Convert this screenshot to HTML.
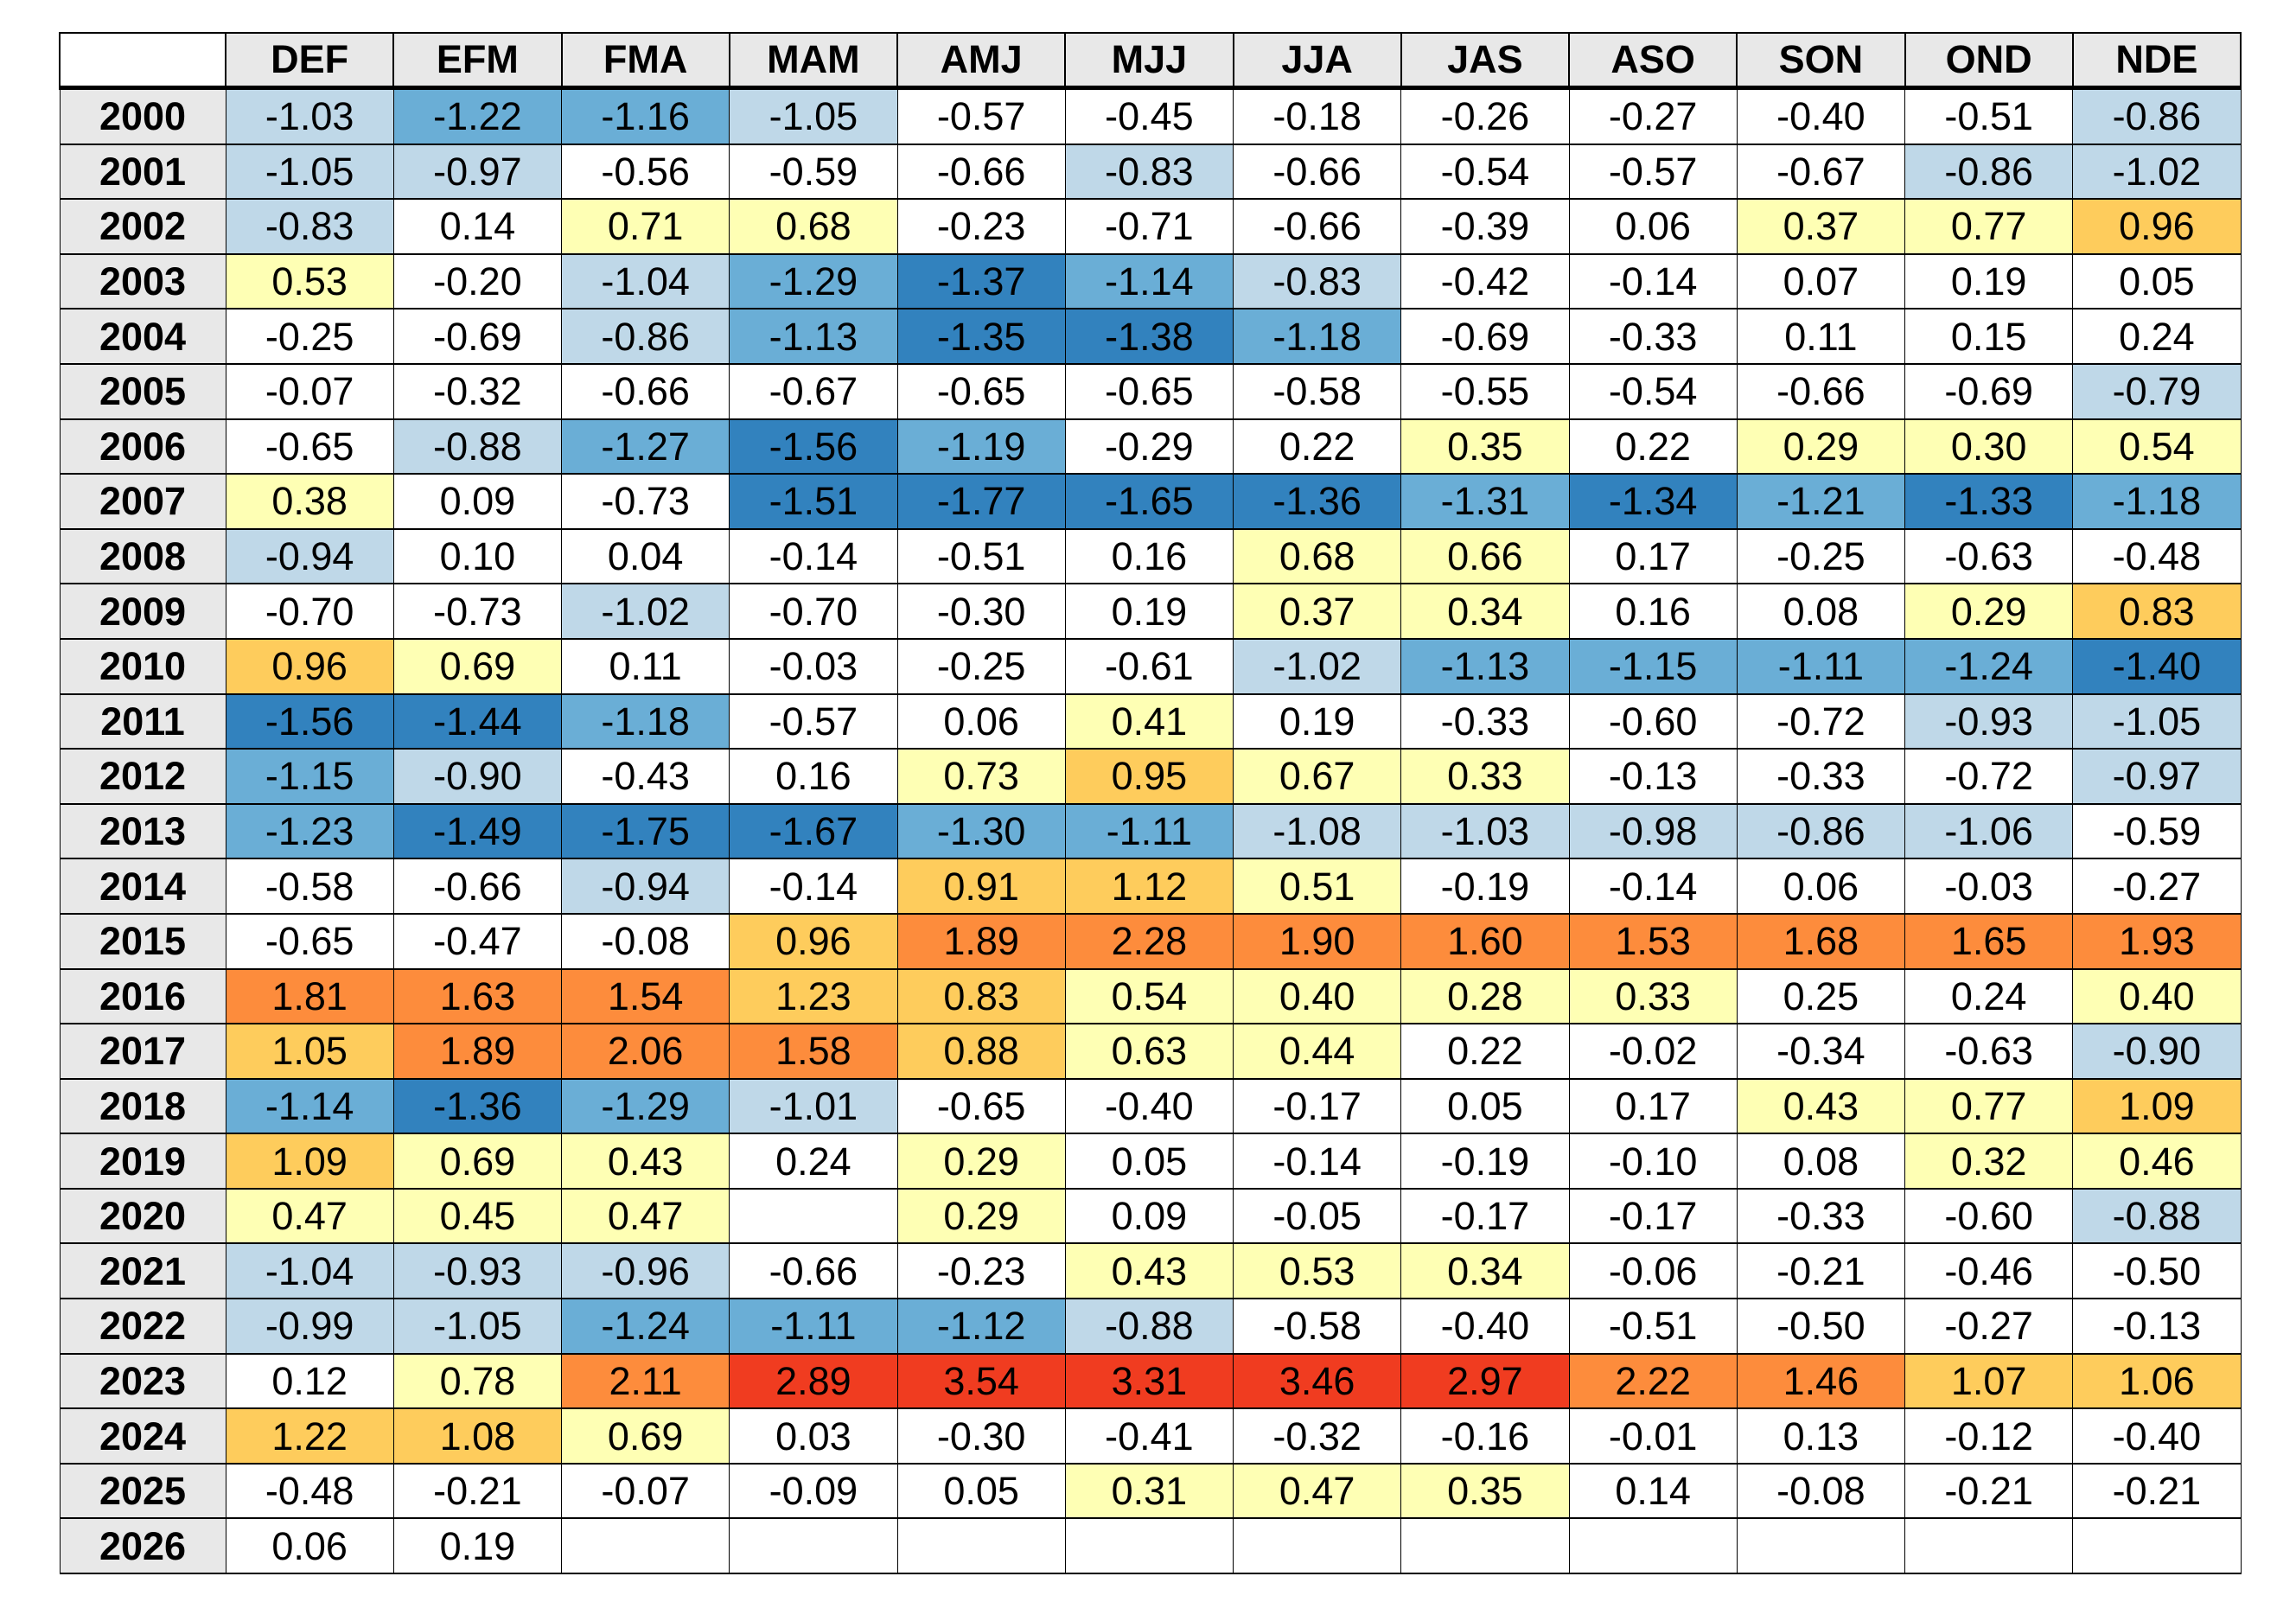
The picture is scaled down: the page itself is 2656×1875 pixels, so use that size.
<!DOCTYPE html>
<html><head><meta charset="utf-8"><style>
html,body{margin:0;padding:0;background:#fff;width:2656px;height:1875px;overflow:hidden}
table{position:absolute;left:68px;top:37px;border-collapse:collapse;table-layout:fixed;width:2525px;font-family:"Liberation Sans",Arial,sans-serif;font-size:45px;color:#000}
td,th{border:2px solid #000;height:61.6px;padding:0;text-align:center;line-height:61px;overflow:hidden;white-space:nowrap}
th{background:#e8e8e8;font-weight:bold;border-bottom:5px solid #000;height:60px;line-height:60px}
th.e{background:#fff}
td.yr{background:#e8e8e8;font-weight:bold}
td{border-left-width:1.5px;border-right-width:1.5px}
.a{background:#bfd8e8}.b{background:#6aaed6}.c{background:#3282be}
.y{background:#feffb4}.o{background:#fecc5c}.r{background:#fd8c3c}.R{background:#f03c20}
col.f{width:192px}
</style></head><body>
<table>
<colgroup><col class="f"><col span="12"></colgroup>
<tr><th class="e"></th><th>DEF</th><th>EFM</th><th>FMA</th><th>MAM</th><th>AMJ</th><th>MJJ</th><th>JJA</th><th>JAS</th><th>ASO</th><th>SON</th><th>OND</th><th>NDE</th></tr>
<tr><td class="yr">2000</td><td class="a">-1.03</td><td class="b">-1.22</td><td class="b">-1.16</td><td class="a">-1.05</td><td>-0.57</td><td>-0.45</td><td>-0.18</td><td>-0.26</td><td>-0.27</td><td>-0.40</td><td>-0.51</td><td class="a">-0.86</td></tr>
<tr><td class="yr">2001</td><td class="a">-1.05</td><td class="a">-0.97</td><td>-0.56</td><td>-0.59</td><td>-0.66</td><td class="a">-0.83</td><td>-0.66</td><td>-0.54</td><td>-0.57</td><td>-0.67</td><td class="a">-0.86</td><td class="a">-1.02</td></tr>
<tr><td class="yr">2002</td><td class="a">-0.83</td><td>0.14</td><td class="y">0.71</td><td class="y">0.68</td><td>-0.23</td><td>-0.71</td><td>-0.66</td><td>-0.39</td><td>0.06</td><td class="y">0.37</td><td class="y">0.77</td><td class="o">0.96</td></tr>
<tr><td class="yr">2003</td><td class="y">0.53</td><td>-0.20</td><td class="a">-1.04</td><td class="b">-1.29</td><td class="c">-1.37</td><td class="b">-1.14</td><td class="a">-0.83</td><td>-0.42</td><td>-0.14</td><td>0.07</td><td>0.19</td><td>0.05</td></tr>
<tr><td class="yr">2004</td><td>-0.25</td><td>-0.69</td><td class="a">-0.86</td><td class="b">-1.13</td><td class="c">-1.35</td><td class="c">-1.38</td><td class="b">-1.18</td><td>-0.69</td><td>-0.33</td><td>0.11</td><td>0.15</td><td>0.24</td></tr>
<tr><td class="yr">2005</td><td>-0.07</td><td>-0.32</td><td>-0.66</td><td>-0.67</td><td>-0.65</td><td>-0.65</td><td>-0.58</td><td>-0.55</td><td>-0.54</td><td>-0.66</td><td>-0.69</td><td class="a">-0.79</td></tr>
<tr><td class="yr">2006</td><td>-0.65</td><td class="a">-0.88</td><td class="b">-1.27</td><td class="c">-1.56</td><td class="b">-1.19</td><td>-0.29</td><td>0.22</td><td class="y">0.35</td><td>0.22</td><td class="y">0.29</td><td class="y">0.30</td><td class="y">0.54</td></tr>
<tr><td class="yr">2007</td><td class="y">0.38</td><td>0.09</td><td>-0.73</td><td class="c">-1.51</td><td class="c">-1.77</td><td class="c">-1.65</td><td class="c">-1.36</td><td class="b">-1.31</td><td class="c">-1.34</td><td class="b">-1.21</td><td class="c">-1.33</td><td class="b">-1.18</td></tr>
<tr><td class="yr">2008</td><td class="a">-0.94</td><td>0.10</td><td>0.04</td><td>-0.14</td><td>-0.51</td><td>0.16</td><td class="y">0.68</td><td class="y">0.66</td><td>0.17</td><td>-0.25</td><td>-0.63</td><td>-0.48</td></tr>
<tr><td class="yr">2009</td><td>-0.70</td><td>-0.73</td><td class="a">-1.02</td><td>-0.70</td><td>-0.30</td><td>0.19</td><td class="y">0.37</td><td class="y">0.34</td><td>0.16</td><td>0.08</td><td class="y">0.29</td><td class="o">0.83</td></tr>
<tr><td class="yr">2010</td><td class="o">0.96</td><td class="y">0.69</td><td>0.11</td><td>-0.03</td><td>-0.25</td><td>-0.61</td><td class="a">-1.02</td><td class="b">-1.13</td><td class="b">-1.15</td><td class="b">-1.11</td><td class="b">-1.24</td><td class="c">-1.40</td></tr>
<tr><td class="yr">2011</td><td class="c">-1.56</td><td class="c">-1.44</td><td class="b">-1.18</td><td>-0.57</td><td>0.06</td><td class="y">0.41</td><td>0.19</td><td>-0.33</td><td>-0.60</td><td>-0.72</td><td class="a">-0.93</td><td class="a">-1.05</td></tr>
<tr><td class="yr">2012</td><td class="b">-1.15</td><td class="a">-0.90</td><td>-0.43</td><td>0.16</td><td class="y">0.73</td><td class="o">0.95</td><td class="y">0.67</td><td class="y">0.33</td><td>-0.13</td><td>-0.33</td><td>-0.72</td><td class="a">-0.97</td></tr>
<tr><td class="yr">2013</td><td class="b">-1.23</td><td class="c">-1.49</td><td class="c">-1.75</td><td class="c">-1.67</td><td class="b">-1.30</td><td class="b">-1.11</td><td class="a">-1.08</td><td class="a">-1.03</td><td class="a">-0.98</td><td class="a">-0.86</td><td class="a">-1.06</td><td>-0.59</td></tr>
<tr><td class="yr">2014</td><td>-0.58</td><td>-0.66</td><td class="a">-0.94</td><td>-0.14</td><td class="o">0.91</td><td class="o">1.12</td><td class="y">0.51</td><td>-0.19</td><td>-0.14</td><td>0.06</td><td>-0.03</td><td>-0.27</td></tr>
<tr><td class="yr">2015</td><td>-0.65</td><td>-0.47</td><td>-0.08</td><td class="o">0.96</td><td class="r">1.89</td><td class="r">2.28</td><td class="r">1.90</td><td class="r">1.60</td><td class="r">1.53</td><td class="r">1.68</td><td class="r">1.65</td><td class="r">1.93</td></tr>
<tr><td class="yr">2016</td><td class="r">1.81</td><td class="r">1.63</td><td class="r">1.54</td><td class="o">1.23</td><td class="o">0.83</td><td class="y">0.54</td><td class="y">0.40</td><td class="y">0.28</td><td class="y">0.33</td><td>0.25</td><td>0.24</td><td class="y">0.40</td></tr>
<tr><td class="yr">2017</td><td class="o">1.05</td><td class="r">1.89</td><td class="r">2.06</td><td class="r">1.58</td><td class="o">0.88</td><td class="y">0.63</td><td class="y">0.44</td><td>0.22</td><td>-0.02</td><td>-0.34</td><td>-0.63</td><td class="a">-0.90</td></tr>
<tr><td class="yr">2018</td><td class="b">-1.14</td><td class="c">-1.36</td><td class="b">-1.29</td><td class="a">-1.01</td><td>-0.65</td><td>-0.40</td><td>-0.17</td><td>0.05</td><td>0.17</td><td class="y">0.43</td><td class="y">0.77</td><td class="o">1.09</td></tr>
<tr><td class="yr">2019</td><td class="o">1.09</td><td class="y">0.69</td><td class="y">0.43</td><td>0.24</td><td class="y">0.29</td><td>0.05</td><td>-0.14</td><td>-0.19</td><td>-0.10</td><td>0.08</td><td class="y">0.32</td><td class="y">0.46</td></tr>
<tr><td class="yr">2020</td><td class="y">0.47</td><td class="y">0.45</td><td class="y">0.47</td><td></td><td class="y">0.29</td><td>0.09</td><td>-0.05</td><td>-0.17</td><td>-0.17</td><td>-0.33</td><td>-0.60</td><td class="a">-0.88</td></tr>
<tr><td class="yr">2021</td><td class="a">-1.04</td><td class="a">-0.93</td><td class="a">-0.96</td><td>-0.66</td><td>-0.23</td><td class="y">0.43</td><td class="y">0.53</td><td class="y">0.34</td><td>-0.06</td><td>-0.21</td><td>-0.46</td><td>-0.50</td></tr>
<tr><td class="yr">2022</td><td class="a">-0.99</td><td class="a">-1.05</td><td class="b">-1.24</td><td class="b">-1.11</td><td class="b">-1.12</td><td class="a">-0.88</td><td>-0.58</td><td>-0.40</td><td>-0.51</td><td>-0.50</td><td>-0.27</td><td>-0.13</td></tr>
<tr><td class="yr">2023</td><td>0.12</td><td class="y">0.78</td><td class="r">2.11</td><td class="R">2.89</td><td class="R">3.54</td><td class="R">3.31</td><td class="R">3.46</td><td class="R">2.97</td><td class="r">2.22</td><td class="r">1.46</td><td class="o">1.07</td><td class="o">1.06</td></tr>
<tr><td class="yr">2024</td><td class="o">1.22</td><td class="o">1.08</td><td class="y">0.69</td><td>0.03</td><td>-0.30</td><td>-0.41</td><td>-0.32</td><td>-0.16</td><td>-0.01</td><td>0.13</td><td>-0.12</td><td>-0.40</td></tr>
<tr><td class="yr">2025</td><td>-0.48</td><td>-0.21</td><td>-0.07</td><td>-0.09</td><td>0.05</td><td class="y">0.31</td><td class="y">0.47</td><td class="y">0.35</td><td>0.14</td><td>-0.08</td><td>-0.21</td><td>-0.21</td></tr>
<tr><td class="yr">2026</td><td>0.06</td><td>0.19</td><td></td><td></td><td></td><td></td><td></td><td></td><td></td><td></td><td></td><td></td></tr>
</table>
</body></html>
